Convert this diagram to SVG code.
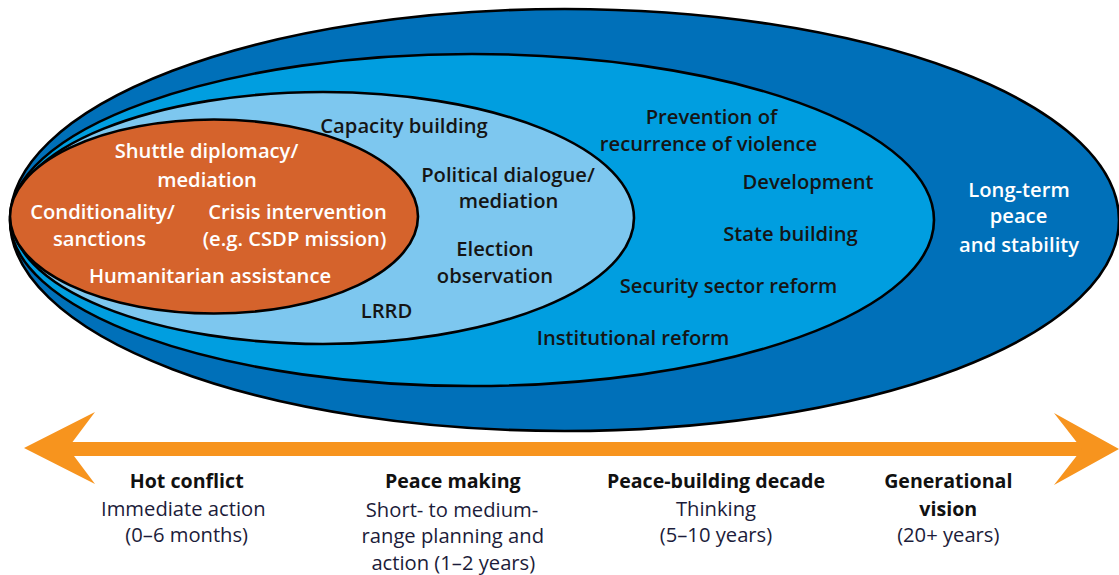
<svg xmlns="http://www.w3.org/2000/svg" width="1119" height="575" viewBox="0 0 1119 575">
  <style>
    .ring { stroke: #000; stroke-width: 2.6; }
    .lbl { font-family: "Open Sans", "Noto Sans", sans-serif; font-size: 20.2px; font-weight: 600; text-anchor: middle; }
    .dark { fill: #151515; }
    .white { fill: #ffffff; }
    .hd { font-family: "Open Sans", "Noto Sans", sans-serif; font-size: 19.6px; font-weight: 700; text-anchor: middle; fill: #111111; }
    .sub { font-family: "Open Sans", "Noto Sans", sans-serif; font-size: 20.2px; font-weight: 400; text-anchor: middle; fill: #1c1c3a; }
    .arrow { fill: #F7941E; }
  </style>

  <g id="long-term">
    <ellipse class="ring" cx="564.5" cy="220" rx="554.5" ry="211" fill="#0070B9"/>
    <text class="lbl white" x="1019" y="196.7">Long-term</text>
    <text class="lbl white" x="1018.5" y="223.3">peace</text>
    <text class="lbl white" x="1019" y="251.7">and stability</text>
  </g>

  <g id="peace-building">
    <ellipse class="ring" cx="472" cy="220" rx="462" ry="166" fill="#009EE0"/>
    <text class="lbl dark" x="711.5" y="124">Prevention of</text>
    <text class="lbl dark" x="708.5" y="150.5">recurrence of violence</text>
    <text class="lbl dark" x="808" y="189.3">Development</text>
    <text class="lbl dark" x="790.5" y="240.7">State building</text>
    <text class="lbl dark" x="728.5" y="293">Security sector reform</text>
    <text class="lbl dark" x="633" y="345">Institutional reform</text>
  </g>

  <g id="peace-making">
    <ellipse class="ring" cx="323" cy="218" rx="311" ry="126" fill="#7DC7EF"/>
    <text class="lbl dark" x="404" y="132.7">Capacity building</text>
    <text class="lbl dark" x="508" y="181.7">Political dialogue/</text>
    <text class="lbl dark" x="508.5" y="208">mediation</text>
    <text class="lbl dark" x="495" y="256">Election</text>
    <text class="lbl dark" x="495" y="282.7">observation</text>
    <text class="lbl dark" x="386.5" y="318">LRRD</text>
  </g>

  <g id="hot-conflict">
    <ellipse class="ring" cx="214" cy="216.5" rx="204" ry="97" fill="#D5632C"/>
    <text class="lbl white" x="206.5" y="158.3">Shuttle diplomacy/</text>
    <text class="lbl white" x="207" y="186.7">mediation</text>
    <text class="lbl white" x="102.5" y="219.3">Conditionality/</text>
    <text class="lbl white" x="99.5" y="246">sanctions</text>
    <text class="lbl white" x="297.5" y="219.3">Crisis intervention</text>
    <text class="lbl white" x="294.5" y="246">(e.g. CSDP mission)</text>
    <text class="lbl white" x="210" y="283.3">Humanitarian assistance</text>
  </g>

  <g id="connectors">
    <rect class="arrow" x="66" y="442" width="1018" height="14"/>
    <polygon class="arrow" points="24,448 95,412 68,448 95,484"/>
    <polygon class="arrow" points="1119,449 1054,413 1082,449 1054,485"/>
  </g>

  <g id="phase-hot">
    <text class="hd" x="186.7" y="488.3">Hot conflict</text>
    <text class="sub" x="183.3" y="516">Immediate action</text>
    <text class="sub" x="186.7" y="542">(0–6 months)</text>
  </g>
  <g id="phase-making">
    <text class="hd" x="452.8" y="488.3">Peace making</text>
    <text class="sub" x="452" y="516.5">Short- to medium-</text>
    <text class="sub" x="452.8" y="543">range planning and</text>
    <text class="sub" x="453.3" y="569.5">action (1–2 years)</text>
  </g>
  <g id="phase-building">
    <text class="hd" x="716" y="488.3">Peace-building decade</text>
    <text class="sub" x="716" y="516">Thinking</text>
    <text class="sub" x="716" y="542">(5–10 years)</text>
  </g>
  <g id="phase-vision">
    <text class="hd" x="948.3" y="488.3">Generational</text>
    <text class="hd" x="948.3" y="516">vision</text>
    <text class="sub" x="948.3" y="542">(20+ years)</text>
  </g>
</svg>
